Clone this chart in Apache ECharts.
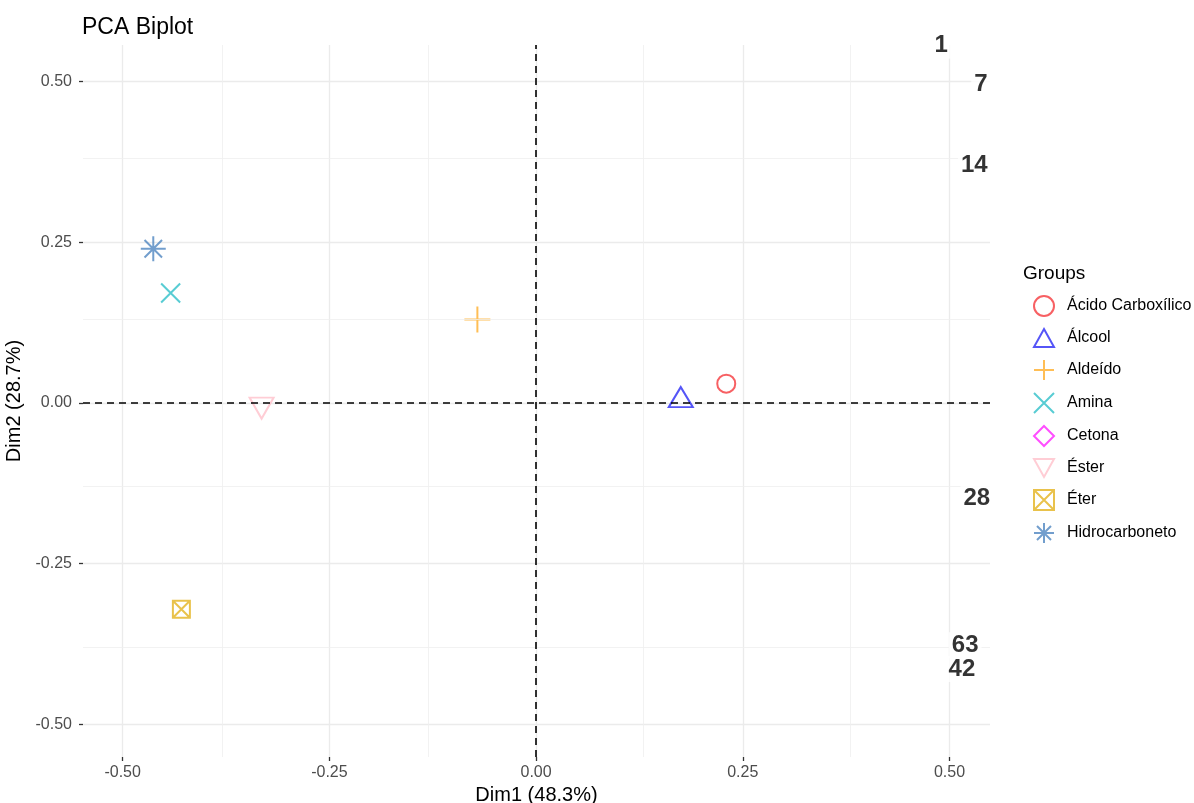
<!DOCTYPE html>
<html>
<head>
<meta charset="utf-8">
<title>PCA Biplot</title>
<script src="https://cdn.jsdelivr.net/npm/echarts@6/dist/echarts.min.js"></script>
<style>
  html, body { margin: 0; padding: 0; background: #fff; }
  #pca-chart { width: 1194px; height: 803px; }
</style>
</head>
<body>
<div id="pca-chart"></div>
<script>
// grupos (Cetona aparece só na legenda, sem ponto visível)
const groupNames = ['Ácido Carboxílico', 'Álcool', 'Aldeído', 'Amina', 'Cetona', 'Éster', 'Éter', 'Hidrocarboneto'];
const groupDim1 = [0.230, 0.175, -0.071, -0.442, null, -0.332, -0.429, -0.463];
const groupDim2 = [0.030, 0.009, 0.130, 0.171, null, -0.008, -0.321, 0.240];

// rótulos das variáveis
const varNames = ['1', '7', '14', '28', '63', '42'];
const varDim1 = [0.490, 0.538, 0.530, 0.533, 0.519, 0.515];
const varDim2 = [0.556, 0.495, 0.370, -0.148, -0.377, -0.414];

// marcas dos eixos
const majorTicks = [-0.5, -0.25, 0, 0.25, 0.5];
const minorTicks = [-0.375, -0.125, 0.125, 0.375];

const groupColors = ['#F5383C', '#2A2AF5', '#FFAE2A', '#2EBFC8', '#FF22FF', '#FFC0CB', '#E3B31E', '#4F86C0'];
const groupSymbols = [
    'path://M0,10 A10,10 0 1,1 20,10 A10,10 0 1,1 0,10 Z',
    'path://M10,0 L20,18 L0,18 Z',
    'path://M10,0 L10,20 M0,10 L20,10',
    'path://M0,0 L20,20 M20,0 L0,20',
    'path://M10,0 L20,10 L10,20 L0,10 Z',
    'path://M0,0 L20,0 L10,18 Z',
    'path://M0,0 L20,0 L20,20 L0,20 Z M0,0 L20,20 M20,0 L0,20',
    'path://M10,0 L10,20 M0,10 L20,10 M3,3 L17,17 M17,3 L3,17'
];
const groupSizes = [18, [24, 20], 26, 19, 20, [24, 21], 17, 25];

const fontFamily = '"Liberation Sans", Arial, sans-serif';

const chart = echarts.init(document.getElementById('pca-chart'));

const tickFmt = v => v.toFixed(2);

function axisOpt(name, min, max, nameGap, labelMargin) {
    return {
        type: 'value',
        min: min,
        max: max,
        name: name,
        nameLocation: 'middle',
        nameGap: nameGap,
        nameTextStyle: { color: '#000', fontSize: 20, fontFamily: fontFamily },
        axisLine: { show: false, onZero: false },
        axisTick: { show: true, length: 4, customValues: majorTicks, lineStyle: { color: '#333', width: 1.3 } },
        axisLabel: { customValues: majorTicks, formatter: tickFmt, color: '#4d4d4d', fontSize: 16, fontFamily: fontFamily, margin: labelMargin },
        splitLine: { show: true, lineStyle: { color: '#ebebeb', width: 1.3 } }
    };
}

const groupSeries = groupNames.map((name, i) => ({
    name: name,
    type: 'scatter',
    z: 3,
    data: groupDim1[i] === null ? [] : [[groupDim1[i], groupDim2[i]]],
    symbol: groupSymbols[i],
    symbolSize: groupSizes[i],
    itemStyle: { color: 'rgba(0,0,0,0)', borderColor: groupColors[i], borderWidth: 2 },
    emphasis: { disabled: true },
    silent: true
}));

const option = {
    animation: false,
    backgroundColor: '#fff',
    textStyle: { fontFamily: fontFamily },
    title: [
        { text: 'PCA Biplot', left: 77, top: 11, textStyle: { color: '#000', fontSize: 23, fontWeight: 'normal', fontFamily: fontFamily } },
        { text: 'Groups', left: 1018, top: 259, textStyle: { color: '#000', fontSize: 19, fontWeight: 'normal', fontFamily: fontFamily } }
    ],
    grid: { left: 83, right: 204, top: 45, bottom: 46, containLabel: false, outerBoundsMode: 'none' },
    xAxis: axisOpt('Dim1 (48.3%)', -0.548, 0.549, 23, 8),
    yAxis: axisOpt('Dim2 (28.7%)', -0.551, 0.557, 55, 11),
    legend: {
        data: groupNames,
        orient: 'vertical',
        left: 1028,
        top: 290,
        itemWidth: 20,
        itemHeight: 20,
        itemGap: 11,
        selectedMode: false,
        textStyle: { color: '#000', fontSize: 16, fontFamily: fontFamily, padding: [0, 0, 0, 8] }
    },
    series: [
        {
            // grade secundária
            name: 'minor-grid',
            type: 'scatter',
            z: 1,
            data: [],
            silent: true,
            markLine: {
                silent: true,
                symbol: ['none', 'none'],
                label: { show: false },
                lineStyle: { color: '#efefef', width: 0.8, type: 'solid' },
                emphasis: { disabled: true },
                data: minorTicks.map(v => ({ xAxis: v })).concat(minorTicks.map(v => ({ yAxis: v })))
            }
        },
        {
            // linhas de referência em zero
            name: 'zero-lines',
            type: 'scatter',
            z: 2,
            data: [],
            silent: true,
            markLine: {
                silent: true,
                symbol: ['none', 'none'],
                label: { show: false },
                lineStyle: { color: '#000', width: 1.6, type: [7, 5] },
                emphasis: { disabled: true },
                data: [{ xAxis: 0 }, { yAxis: 0 }]
            }
        },
        ...groupSeries,
        {
            name: 'variables',
            type: 'scatter',
            z: 5,
            clip: false,
            silent: true,
            symbolSize: 1,
            itemStyle: { color: 'rgba(0,0,0,0)' },
            data: varNames.map((n, i) => ({ name: n, value: [varDim1[i], varDim2[i]] })),
            label: {
                show: true,
                position: 'inside',
                formatter: '{b}',
                color: '#000',
                fontSize: 24,
                fontWeight: 'bold',
                fontFamily: fontFamily,
                backgroundColor: '#fff',
                padding: [1, 3]
            }
        }
    ]
};

chart.setOption(option);
</script>
</body>
</html>
